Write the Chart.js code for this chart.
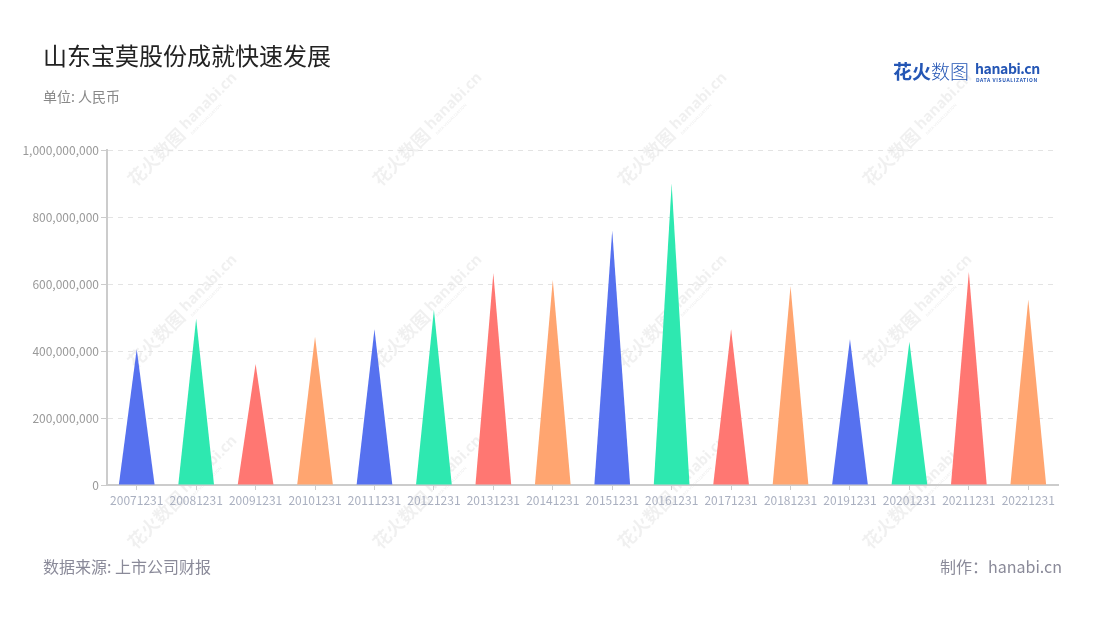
<!DOCTYPE html>
<html><head><meta charset="utf-8">
<script src="https://cdn.jsdelivr.net/npm/chart.js@4.4.0/dist/chart.umd.min.js"></script>
<style>
html,body{margin:0;padding:0;background:#fff;}
#wrap{position:relative;width:1100px;height:620px;overflow:hidden;font-family:"Noto Sans CJK SC","Noto Sans",sans-serif;}
canvas{position:absolute;left:0;top:0;}
.t{position:absolute;white-space:nowrap;line-height:1;}
</style></head><body>
<div id="wrap">
<canvas id="c" width="1100" height="620"></canvas>
<div class="t" style="left:43px;top:43px;font-size:24px;color:#222;">山东宝莫股份成就快速发展</div>
<div class="t" style="left:43px;top:89px;font-size:14px;color:#888;">单位: 人民币</div>
<div class="t" style="left:893px;top:61px;font-size:19px;color:#2456b5;"><b>花火</b><span style="font-weight:300">数图</span></div>
<div class="t" style="left:975px;top:61px;font-size:14px;font-weight:bold;color:#2456b5;letter-spacing:-0.4px;">hanabi.cn</div>
<div class="t" style="left:976px;top:77px;font-size:5px;font-weight:bold;color:#2456b5;letter-spacing:0.6px;">DATA VISUALIZATION</div>
<div class="t" style="left:43px;top:558px;font-size:16px;color:#8a8a99;">数据来源: 上市公司财报</div>
<div class="t" style="right:38px;top:558px;font-size:16px;color:#8a8a99;">制作：hanabi.cn</div>
</div>
<script>
const categories = ['20071231','20081231','20091231','20101231','20111231','20121231','20131231','20141231','20151231','20161231','20171231','20181231','20191231','20201231','20211231','20221231'];
const values = [405000000,496000000,361000000,443000000,465000000,523000000,632000000,612000000,760000000,899000000,465000000,593000000,436000000,428000000,636000000,554000000];
const palette = ['#5671ef','#2ee8b0','#ff7772','#ffa570'];
const yTicks = [0,200000000,400000000,600000000,800000000,1000000000];

const watermark = {
  id:'watermark',
  beforeDraw(chart){
    const ctx = chart.ctx;
    ctx.save();
    ctx.fillStyle = '#fff';
    ctx.fillRect(0,0,chart.width,chart.height);
    const xs=[183,428,673,918], ys=[130,312,493];
    ys.forEach(y=>xs.forEach(x=>{
      ctx.save();
      ctx.translate(x,y);
      ctx.rotate(-Math.PI/4);
      ctx.fillStyle='rgba(0,0,0,0.06)';
      ctx.textBaseline='middle';
      ctx.font='bold 18px "Noto Sans CJK SC"';
      ctx.textAlign='right';
      ctx.fillText('花火数图',-2,0);
      ctx.textAlign='left';
      ctx.font='bold 15px "Noto Sans"';
      ctx.fillText('hanabi.cn',2,-2);
      ctx.font='bold 4px "Noto Sans"';
      ctx.fillText('DATA VISUALIZATION',3,9);
      ctx.restore();
    }));
    ctx.restore();
  }
};

const triangles = {
  id:'triangles',
  afterDatasetsDraw(chart){
    const ctx = chart.ctx;
    const meta = chart.getDatasetMeta(0);
    meta.data.forEach((el,i)=>{
      const p = el.getProps(['x','y','base','width'], true);
      ctx.save();
      ctx.fillStyle = palette[i % palette.length];
      ctx.beginPath();
      ctx.moveTo(p.x - p.width/2, p.base);
      ctx.lineTo(p.x, p.y);
      ctx.lineTo(p.x + p.width/2, p.base);
      ctx.closePath();
      ctx.fill();
      ctx.restore();
    });
  }
};

new Chart(document.getElementById('c'), {
  type:'bar',
  data:{labels:categories, datasets:[{data:values, backgroundColor:'rgba(0,0,0,0)', borderWidth:0, barPercentage:0.6, categoryPercentage:1}]},
  options:{
    responsive:false, animation:false, devicePixelRatio:1,
    layout:{padding:{top:150,right:42,bottom:105,left:0}},
    plugins:{legend:{display:false}, tooltip:{enabled:false}},
    scales:{
      x:{
        z:1,
        grid:{offset:false, drawOnChartArea:false, drawTicks:true, tickLength:5, color:'#cccccc', tickColor:'#cccccc'},
        border:{color:'#cccccc', width:2},
        ticks:{color:'#aab0c0', font:{size:12, family:'"Noto Sans CJK SC"'}, padding:3, maxRotation:0, autoSkip:false},
        afterFit(s){ s.height = 30; }
      },
      y:{
        min:0, max:1000000000,
        afterBuildTicks(s){ s.ticks = yTicks.map(v=>({value:v})); },
        grid:{color:'#e3e3e3', tickColor:'#cccccc', tickLength:6, lineWidth:1, tickBorderDash:[]},
        border:{color:'#cccccc', width:2, dash:[5,5]},
        ticks:{color:'#999999', font:{size:12, family:'"Noto Sans CJK SC"'}, padding:2,
          callback:(v)=>Number(v).toLocaleString('en-US')},
        afterFit(s){ s.width = 107; }
      }
    }
  },
  plugins:[watermark, triangles]
});
</script>
</body></html>
